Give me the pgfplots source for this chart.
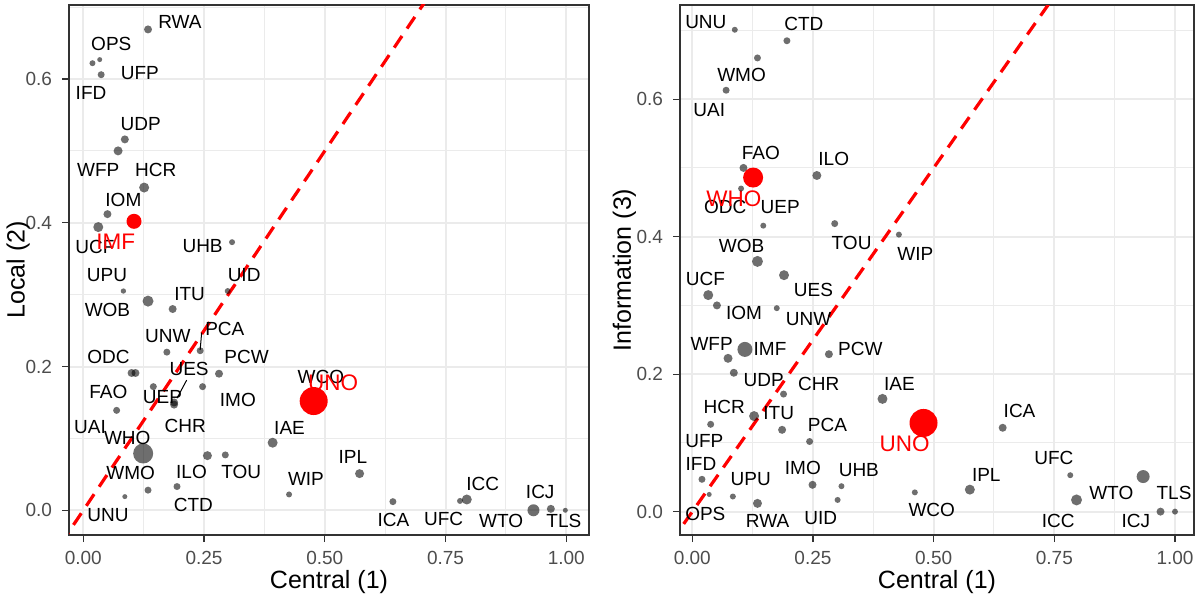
\documentclass[border=0pt]{standalone}
\usepackage{pgfplots}
\pgfplotsset{compat=1.18}
\usepackage{pgfplotstable}
\usepackage{fontspec}
\setmainfont{Liberation Sans}
\definecolor{ptgrey}{HTML}{000000}
\definecolor{tickgrey}{HTML}{4D4D4D}
\definecolor{framegrey}{HTML}{333333}
\definecolor{gridgrey}{HTML}{EBEBEB}

\pgfplotstableread{
x y s
0.134 0.669 2.0
0.019 0.622 1.5
0.034 0.627 1.25
0.037 0.606 1.75
0.086 0.516 2.0
0.072 0.500 2.25
0.126 0.449 2.5
0.050 0.412 2.0
0.031 0.394 2.5
0.308 0.373 1.5
0.083 0.305 1.33
0.299 0.305 1.5
0.134 0.291 2.75
0.185 0.280 2.0
0.242 0.222 1.75
0.173 0.220 1.75
0.100 0.191 2.0
0.108 0.191 2.0
0.281 0.190 2.0
0.145 0.172 1.75
0.247 0.172 1.75
0.188 0.150 2.0
0.188 0.147 2.0
0.069 0.139 1.75
0.124 0.079 5.0
0.257 0.076 2.25
0.294 0.077 1.75
0.392 0.094 2.5
0.134 0.028 1.75
0.086 0.019 1.25
0.194 0.033 1.75
0.426 0.022 1.5
0.572 0.051 2.25
0.641 0.012 1.75
0.780 0.013 1.5
0.794 0.015 2.5
0.932 0.000 3.0
0.968 0.002 2.0
0.998 0.000 1.25
}\leftgrey

\pgfplotstableread{
x y s
0.105 0.402 3.75
0.477 0.152 7.0
}\leftred

\pgfplotstableread{
x y s
0.088 0.701 1.5
0.196 0.685 1.75
0.135 0.660 1.75
0.070 0.613 1.75
0.106 0.500 2.0
0.258 0.489 2.25
0.101 0.470 1.5
0.147 0.416 1.5
0.295 0.419 1.75
0.428 0.403 1.5
0.135 0.364 2.75
0.190 0.344 2.5
0.033 0.315 2.5
0.051 0.300 2.0
0.175 0.296 1.5
0.109 0.236 3.75
0.074 0.223 2.25
0.283 0.229 2.0
0.086 0.202 2.0
0.189 0.171 1.75
0.394 0.164 2.5
0.038 0.127 1.75
0.128 0.139 2.5
0.186 0.119 2.0
0.243 0.102 1.75
0.020 0.047 1.75
0.035 0.025 1.25
0.084 0.022 1.5
0.135 0.012 2.25
0.249 0.039 2.0
0.309 0.037 1.5
0.301 0.017 1.5
0.461 0.028 1.5
0.643 0.122 2.0
0.575 0.032 2.5
0.783 0.053 1.5
0.796 0.017 2.75
0.934 0.051 3.25
0.970 0.000 2.0
1.000 0.000 1.5
}\rightgrey

\pgfplotstableread{
x y s
0.126 0.486 5.0
0.479 0.129 7.0
}\rightred

\pgfplotsset{
  ggbase/.style={
    scale only axis,
    axis line style={draw=framegrey, line width=0.6pt},
    tick pos=left,
    tick align=outside,
    major tick length=3.5pt,
    minor tick length=0pt,
    every tick/.style={draw=framegrey, line width=0.6pt},
    grid=both,
    major grid style={draw=gridgrey, line width=1pt},
    minor grid style={draw=gridgrey, line width=0.5pt},
    xtick={0,0.25,0.5,0.75,1},
    xticklabels={0.00,0.25,0.50,0.75,1.00},
    minor xtick={0.125,0.375,0.625,0.875},
    ytick={0,0.2,0.4,0.6},
    yticklabels={0.0,0.2,0.4,0.6},
    minor ytick={0.1,0.3,0.5,0.7},
    tick label style={font=\fontsize{9.5}{11}\selectfont, text=tickgrey},
    xticklabel style={yshift=-1pt},
    yticklabel style={xshift=-1.5pt},
    label style={font=\fontsize{12.5}{14}\selectfont, text=black},
    xlabel style={at={(axis description cs:0.5,-0.1)}, anchor=base},
    clip=true,
  },
  greypts/.style={only marks, scatter, mark=*,
    scatter/use mapped color={draw=ptgrey, fill=ptgrey, fill opacity=0.57, draw opacity=0},
    visualization depends on={\thisrow{s}\as\perpointmarksize},
    scatter/@pre marker code/.append style={/tikz/mark size=\perpointmarksize}},
  redpts/.style={only marks, scatter, mark=*,
    scatter/use mapped color={draw=red, fill=red, draw opacity=0},
    visualization depends on={\thisrow{s}\as\perpointmarksize},
    scatter/@pre marker code/.append style={/tikz/mark size=\perpointmarksize}},
  refline/.style={red, line width=1.6pt, dash pattern=on 7pt off 4.5pt},
}
\tikzset{
  lab/.style={font=\fontsize{9.5}{11}\selectfont, inner sep=0pt, text=black},
  rlab/.style={font=\fontsize{11.25}{13}\selectfont, inner sep=0pt, text=red},
}

\begin{document}
\begin{tikzpicture}
\useasboundingbox (0,0) rectangle (599pt,297pt);

% ---------------- Left panel ----------------
\begin{axis}[ggbase,
  at={(34.5pt,29.5pt)}, anchor=south west,
  width=260pt, height=265pt,
  xmin=-0.0296, xmax=1.047, ymin=-0.0344, ymax=0.703,
  xlabel={Central (1)},
  ylabel={Local (2)},
  ylabel style={at={(axis description cs:-0.098,0.5)}, anchor=center},
]
\addplot[greypts] table[x=x,y=y,meta=s] {\leftgrey};
\addplot[redpts] table[x=x,y=y,meta=s] {\leftred};
\addplot[refline] coordinates {(-0.1,-0.1) (1.2,1.2)};
\draw[black, line width=0.5pt] (axis cs:0.245,0.247) -- (axis cs:0.242,0.223);
\draw[black, line width=0.5pt] (axis cs:0.214,0.181) -- (axis cs:0.194,0.156);
\node[lab] at (axis cs:0.200,0.680) {RWA};
\node[lab] at (axis cs:0.058,0.649) {OPS};
\node[lab] at (axis cs:0.117,0.608) {UFP};
\node[lab] at (axis cs:0.016,0.580) {IFD};
\node[lab] at (axis cs:0.119,0.538) {UDP};
\node[lab] at (axis cs:0.031,0.474) {WFP};
\node[lab] at (axis cs:0.150,0.474) {HCR};
\node[lab] at (axis cs:0.083,0.432) {IOM};
\node[lab] at (axis cs:0.024,0.367) {UCF};
\node[lab] at (axis cs:0.247,0.367) {UHB};
\node[lab] at (axis cs:0.049,0.327) {UPU};
\node[lab] at (axis cs:0.333,0.327) {UID};
\node[lab] at (axis cs:0.220,0.301) {ITU};
\node[lab] at (axis cs:0.050,0.279) {WOB};
\node[lab] at (axis cs:0.293,0.252) {PCA};
\node[lab] at (axis cs:0.175,0.242) {UNW};
\node[lab] at (axis cs:0.052,0.213) {ODC};
\node[lab] at (axis cs:0.338,0.213) {PCW};
\node[lab] at (axis cs:0.219,0.196) {UES};
\node[lab] at (axis cs:0.052,0.164) {FAO};
\node[lab] at (axis cs:0.164,0.158) {UEP};
\node[lab] at (axis cs:0.320,0.154) {IMO};
\node[lab] at (axis cs:0.492,0.186) {WCO};
\node[lab] at (axis cs:0.014,0.116) {UAI};
\node[lab] at (axis cs:0.091,0.101) {WHO};
\node[lab] at (axis cs:0.211,0.117) {CHR};
\node[lab] at (axis cs:0.427,0.115) {IAE};
\node[lab] at (axis cs:0.098,0.0515) {WMO};
\node[lab] at (axis cs:0.224,0.053) {ILO};
\node[lab] at (axis cs:0.327,0.053) {TOU};
\node[lab] at (axis cs:0.461,0.044) {WIP};
\node[lab] at (axis cs:0.228,0.0074) {CTD};
\node[lab] at (axis cs:0.051,-0.0072) {UNU};
\node[lab] at (axis cs:0.558,0.074) {IPL};
\node[lab] at (axis cs:0.642,-0.0135) {ICA};
\node[lab] at (axis cs:0.746,-0.0118) {UFC};
\node[lab] at (axis cs:0.827,0.037) {ICC};
\node[lab] at (axis cs:0.865,-0.0152) {WTO};
\node[lab] at (axis cs:0.946,0.025) {ICJ};
\node[lab] at (axis cs:0.995,-0.0152) {TLS};
\node[rlab] at (axis cs:0.067,0.373) {IMF};
\node[rlab] at (axis cs:0.517,0.177) {UNO};
\end{axis}

% ---------------- Right panel ----------------
\begin{axis}[ggbase,
  at={(340pt,29.5pt)}, anchor=south west,
  width=257pt, height=265pt,
  xmin=-0.0255, xmax=1.0394, ymin=-0.034, ymax=0.737,
  xlabel={Central (1)},
  ylabel={Information (3)},
  ylabel style={at={(axis description cs:-0.108,0.5)}, anchor=center},
]
\addplot[greypts] table[x=x,y=y,meta=s] {\rightgrey};
\addplot[redpts] table[x=x,y=y,meta=s] {\rightred};
\addplot[refline] coordinates {(-0.1,-0.1) (1.2,1.2)};
\node[lab] at (axis cs:0.028,0.712) {UNU};
\node[lab] at (axis cs:0.231,0.709) {CTD};
\node[lab] at (axis cs:0.102,0.635) {WMO};
\node[lab] at (axis cs:0.035,0.584) {UAI};
\node[lab] at (axis cs:0.142,0.522) {FAO};
\node[lab] at (axis cs:0.293,0.513) {ILO};
\node[lab] at (axis cs:0.068,0.443) {ODC};
\node[lab] at (axis cs:0.182,0.443) {UEP};
\node[lab] at (axis cs:0.102,0.387) {WOB};
\node[lab] at (axis cs:0.330,0.391) {TOU};
\node[lab] at (axis cs:0.462,0.375) {WIP};
\node[lab] at (axis cs:0.027,0.339) {UCF};
\node[lab] at (axis cs:0.251,0.323) {UES};
\node[lab] at (axis cs:0.107,0.289) {IOM};
\node[lab] at (axis cs:0.241,0.280) {UNW};
\node[lab] at (axis cs:0.040,0.244) {WFP};
\node[lab] at (axis cs:0.161,0.237) {IMF};
\node[lab] at (axis cs:0.348,0.237) {PCW};
\node[lab] at (axis cs:0.148,0.192) {UDP};
\node[lab] at (axis cs:0.262,0.186) {CHR};
\node[lab] at (axis cs:0.429,0.186) {IAE};
\node[lab] at (axis cs:0.066,0.152) {HCR};
\node[lab] at (axis cs:0.179,0.144) {ITU};
\node[lab] at (axis cs:0.025,0.103) {UFP};
\node[lab] at (axis cs:0.280,0.126) {PCA};
\node[lab] at (axis cs:0.018,0.069) {IFD};
\node[lab] at (axis cs:0.229,0.064) {IMO};
\node[lab] at (axis cs:0.345,0.060) {UHB};
\node[lab] at (axis cs:0.121,0.047) {UPU};
\node[lab] at (axis cs:0.027,-0.003) {OPS};
\node[lab] at (axis cs:0.156,-0.014) {RWA};
\node[lab] at (axis cs:0.266,-0.009) {UID};
\node[lab] at (axis cs:0.496,0.003) {WCO};
\node[lab] at (axis cs:0.678,0.146) {ICA};
\node[lab] at (axis cs:0.749,0.078) {UFC};
\node[lab] at (axis cs:0.609,0.054) {IPL};
\node[lab] at (axis cs:0.868,0.027) {WTO};
\node[lab] at (axis cs:0.998,0.027) {TLS};
\node[lab] at (axis cs:0.758,-0.013) {ICC};
\node[lab] at (axis cs:0.919,-0.014) {ICJ};
\node[rlab] at (axis cs:0.086,0.455) {WHO};
\node[rlab] at (axis cs:0.440,0.099) {UNO};
\end{axis}
\end{tikzpicture}
\end{document}
